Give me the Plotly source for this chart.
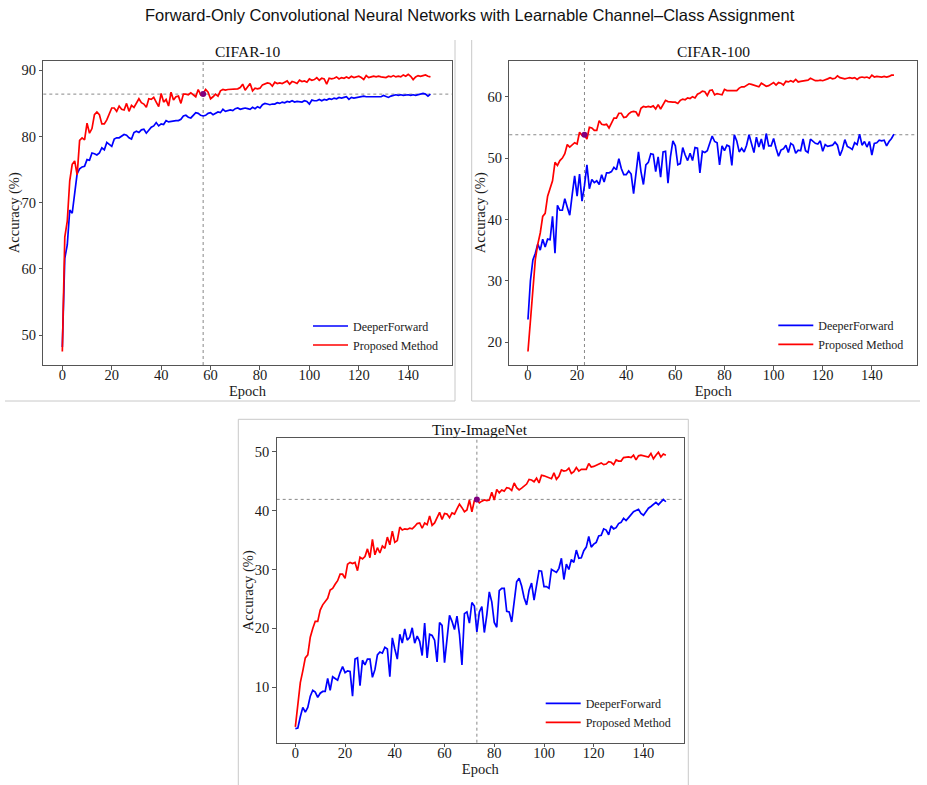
import plotly.graph_objects as go

epochs = list(range(150))

c10_deeper = [
    48.2, 61.6, 63.6, 68.9, 68.4, 71.7, 74.4, 75.1, 75.4, 75.5,
    76.5, 76.4, 77.5, 77.4, 77.2, 77.5, 78.3, 78.0, 79.1, 78.8,
    78.5, 79.6, 79.8, 79.8, 80.1, 80.3, 80.2, 79.8, 79.6, 80.6,
    80.8, 80.6, 81.0, 81.1, 80.5, 81.0, 81.4, 81.6, 82.1, 81.6,
    81.9, 81.8, 82.4, 82.2, 82.3, 82.3, 82.4, 82.4, 82.6, 83.1,
    83.2, 82.9, 82.8, 83.2, 83.6, 83.5, 83.2, 83.1, 83.2, 83.5,
    83.6, 83.3, 83.5, 83.7, 83.6, 84.1, 83.8, 83.9, 84.0, 83.9,
    84.2, 84.3, 84.1, 84.2, 84.3, 84.2, 84.1, 84.4, 84.2, 84.5,
    84.3, 84.8, 85.0, 84.9, 84.8, 84.9, 84.9, 85.1, 85.0, 85.2,
    85.1, 85.3, 85.2, 85.4, 85.2, 85.3, 85.3, 85.2, 85.4, 85.3,
    84.9, 85.5, 85.4, 85.4, 85.6, 85.4, 85.6, 85.5, 85.7, 85.6,
    85.8, 85.7, 85.9, 85.8, 85.9, 86.0, 85.6, 85.9, 85.8, 85.9,
    85.9, 86.0, 86.1, 86.0, 86.0, 86.1, 86.0, 86.0, 86.1, 86.0,
    86.2, 86.1, 85.9, 86.1, 86.2, 86.3, 86.2, 86.3, 86.2, 86.3,
    86.3, 86.2, 86.3, 86.2, 86.3, 86.3, 86.5, 86.4, 86.1, 86.4,
]
c10_proposed = [
    47.5, 64.8, 67.2, 73.3, 75.8, 76.3, 74.2, 79.4, 79.8, 79.5,
    82.0, 80.5, 81.2, 83.3, 83.7, 83.3, 81.9, 81.9, 82.5, 83.4,
    84.3, 84.3, 83.8, 84.6, 84.1, 84.0, 85.0, 83.8, 84.7, 84.4,
    85.0, 85.7, 85.1, 84.9, 84.4, 85.7, 85.6, 85.9, 85.2, 84.5,
    86.5, 85.2, 85.6, 84.6, 86.7, 85.5, 86.0, 86.1, 85.0, 86.4,
    86.4, 86.3, 86.6, 86.3, 86.0, 87.1, 86.3, 86.5, 87.1, 86.7,
    85.7, 86.0, 86.4, 86.1, 86.9, 87.1, 87.0, 87.1, 87.1, 87.2,
    87.1, 87.2, 87.4, 87.9, 87.0, 87.5, 88.0, 86.9, 87.3, 87.2,
    87.3, 87.8, 88.0, 88.1, 88.0, 87.6, 88.2, 88.0, 88.1, 88.0,
    88.2, 88.4, 87.9, 88.3, 88.2, 88.0, 88.5, 88.3, 88.4, 88.2,
    88.7, 88.5, 88.6, 88.9, 88.5, 88.8, 88.7, 87.9, 88.8, 88.7,
    88.8, 89.0, 88.7, 88.9, 88.8, 89.0, 88.8, 89.1, 88.9, 89.0,
    89.1, 88.9, 88.6, 89.2, 88.9, 89.0, 89.1, 89.0, 89.1, 89.0,
    89.0, 88.9, 89.1, 89.0, 89.2, 89.0, 89.1, 89.0, 89.3, 89.1,
    89.4, 89.1, 88.6, 89.0, 89.2, 89.1, 89.2, 89.3, 89.1, 89.0,
]

c100_deeper = [
    23.7, 30.0, 33.4, 34.5, 36.0, 35.0, 36.8, 35.5, 36.8, 36.7,
    40.5, 34.5, 42.3, 41.5, 41.5, 43.4, 42.0, 40.7, 44.0, 47.1,
    43.8, 47.4, 43.0, 45.5, 48.9, 45.0, 46.5, 46.0, 46.3, 45.7,
    47.3, 46.1, 47.6, 47.6, 47.8, 48.5, 48.1, 49.9, 48.3, 47.3,
    47.3, 47.9, 47.4, 44.2, 47.6, 51.0, 47.8, 45.7, 48.9, 49.3,
    50.7, 50.6, 47.8, 50.2, 46.9, 51.0, 51.1, 45.9, 50.2, 52.8,
    52.0, 48.9, 49.1, 51.7, 50.5, 49.6, 50.8, 49.6, 51.7, 51.6,
    47.6, 51.1, 50.9, 51.2, 52.4, 53.6, 52.7, 52.5, 48.9, 52.0,
    51.2, 52.1, 51.9, 48.8, 53.8, 52.8, 51.0, 51.6, 51.0, 52.1,
    53.8, 52.1, 50.9, 53.4, 51.8, 53.1, 51.4, 54.0, 52.0, 52.0,
    53.2, 51.6, 50.3, 51.3, 51.5, 52.1, 50.9, 52.4, 52.1, 50.8,
    51.3, 51.2, 53.1, 51.2, 50.9, 53.1, 52.8, 52.4, 52.3, 52.8,
    51.1, 52.2, 51.9, 52.0, 52.1, 52.6, 52.1, 50.4, 51.4, 53.0,
    51.9, 51.7, 51.4, 52.5, 52.2, 53.9, 52.1, 52.7, 51.8, 52.7,
    50.5, 52.4, 52.5, 52.9, 52.8, 52.9, 52.0, 52.7, 53.2, 53.9,
]
c100_proposed = [
    18.5, 24.0, 29.0, 33.5, 36.0, 37.8, 40.5, 41.0, 43.8, 45.2,
    46.3, 49.3, 48.8, 49.6, 50.0, 50.7, 52.2, 51.8, 52.2, 52.5,
    52.3, 54.2, 53.7, 53.7, 53.1, 55.0, 54.9, 54.5, 54.5, 56.1,
    55.5, 55.4, 55.5, 54.9, 55.7, 56.5, 56.5, 57.3, 57.3, 56.6,
    56.7, 57.2, 57.5, 57.6, 57.5, 56.8, 58.1, 58.4, 58.3, 58.4,
    58.3, 58.5, 58.0, 58.7, 58.0, 58.6, 59.4, 59.2, 59.1, 59.1,
    59.1, 58.9, 59.4, 59.6, 59.5, 59.8, 59.7, 60.0, 59.8, 60.4,
    60.6, 60.9, 60.8, 60.2, 61.0, 61.1, 60.3, 60.5, 60.4, 60.3,
    61.2, 61.0, 61.0, 61.0, 61.0, 61.0, 61.4, 61.6, 61.6, 61.9,
    62.1, 62.0, 61.9, 61.8, 61.6, 62.2, 61.9, 61.7, 61.8, 62.0,
    62.3, 61.9, 62.3, 62.2, 61.9, 62.5, 62.4, 62.6, 62.4, 62.8,
    62.4, 62.5, 62.6, 62.6, 62.7, 63.0, 62.8, 62.6, 62.6, 62.7,
    62.6, 62.7, 62.9, 63.1, 62.9, 63.0, 63.4, 63.1, 63.0, 62.9,
    63.0, 63.1, 63.0, 63.1, 62.8, 63.1, 63.2, 63.1, 63.2, 63.0,
    63.5, 63.2, 63.3, 63.2, 63.2, 63.3, 63.2, 63.3, 63.5, 63.5,
]

tiny_deeper = [
    3.0, 3.1, 5.0, 6.6, 5.8, 6.6, 8.5, 9.5, 9.2, 8.3,
    9.0, 9.3, 9.3, 11.5, 9.5, 11.8, 11.5, 11.2, 12.5, 13.5,
    12.5, 12.8, 12.7, 8.5, 14.8, 15.0, 10.3, 14.6, 13.8, 14.8,
    14.8, 11.7, 13.0, 15.5, 16.0, 15.8, 16.8, 16.5, 11.8, 18.4,
    16.5, 14.8, 19.0, 17.5, 19.9, 18.0, 18.5, 20.1, 17.5, 18.7,
    17.8, 15.4, 20.9, 15.0, 19.0, 18.8, 18.0, 14.3, 21.0, 20.5,
    14.2, 18.8, 22.2, 21.2, 19.8, 22.1, 19.0, 13.8, 22.5, 22.8,
    20.9, 24.4, 23.8, 19.4, 22.8, 23.7, 19.3, 22.3, 26.2, 24.5,
    21.0, 20.2, 26.4, 26.8, 26.8, 22.9, 22.8, 21.1, 24.8, 27.9,
    28.5, 27.2, 25.2, 24.0, 26.5, 27.7, 24.8, 27.6, 29.8, 29.7,
    27.1, 27.1, 26.8, 30.0, 29.7, 29.5, 30.2, 31.9, 28.3, 30.9,
    30.0, 31.7, 31.2, 33.3, 31.9, 32.0, 33.2, 33.8, 35.6, 33.8,
    34.3, 34.6, 35.7, 35.8, 36.9, 36.7, 35.9, 37.4, 36.9, 37.1,
    37.8, 38.0, 38.7, 38.3, 38.8, 39.3, 39.8, 40.0, 40.2, 39.5,
    39.2, 39.8, 40.4, 40.7, 41.0, 41.4, 41.0, 41.5, 41.9, 41.5,
]
tiny_proposed = [
    3.3, 7.2, 10.8, 12.8, 15.0, 15.5, 18.5, 20.0, 21.2, 21.2,
    23.1, 24.0, 24.6, 25.1, 26.5, 26.8, 27.5, 28.1, 29.2, 29.2,
    28.5, 30.9, 31.2, 31.0, 31.2, 29.8, 32.1, 31.8, 32.2, 33.5,
    32.0, 35.1, 32.5, 33.7, 32.8, 34.0, 33.6, 35.5, 34.2, 36.5,
    34.6, 34.9, 37.2, 36.7, 36.9, 36.8, 37.0, 36.9, 37.3, 37.8,
    37.9, 37.0, 37.9, 37.6, 39.1, 37.5, 37.9, 38.8, 39.7, 38.5,
    39.5, 39.4, 38.8, 39.6, 39.4, 40.3, 41.1, 40.5, 39.8, 40.1,
    41.8, 39.8, 41.7, 41.9, 41.3, 41.6, 41.8, 41.7, 41.8, 43.1,
    41.8, 43.6, 43.0, 43.5, 43.3, 43.9, 43.8, 43.4, 44.7, 43.9,
    43.5, 43.8, 44.2, 44.5, 45.3, 45.2, 44.9, 45.5, 44.7, 46.0,
    45.9, 45.7, 45.5, 45.4, 46.4, 45.3, 45.8, 46.9, 46.7, 46.8,
    47.2, 46.3, 46.6, 47.3, 46.7, 47.0, 47.0, 47.0, 48.0, 47.4,
    47.5, 47.7, 48.0, 48.1, 47.8, 47.9, 48.3, 48.2, 47.8, 48.6,
    48.4, 48.4, 49.0, 49.1, 49.1, 49.0, 49.4, 48.6, 49.3, 49.4,
    49.3, 49.3, 49.1, 49.7, 48.8, 49.4, 49.9, 49.1, 49.6, 49.4,
]

dataset_names = ["CIFAR-10", "CIFAR-100", "Tiny-ImageNet"]
series_names = ["DeeperForward", "Proposed Method"]
deeper_series = [c10_deeper, c100_deeper, tiny_deeper]
proposed_series = [c10_proposed, c100_proposed, tiny_proposed]
ref_accuracy = [86.4, 53.8, 41.9]
ref_epoch = [57, 23, 73]
x_ticks = [0, 20, 40, 60, 80, 100, 120, 140]
y_ticks = [[50, 60, 70, 80, 90], [20, 30, 40, 50, 60], [10, 20, 30, 40, 50]]

W, H = 927, 785
SERIF = "Liberation Serif, Times New Roman, serif"
TXT = "#1a1a1a"

def px(x):
    return x / W

def py(y):
    return 1 - y / H

# plot areas in pixels: (left, right, top, bottom)
areas = [(43.3, 451.7, 60.7, 365.0), (509.3, 917.3, 60.7, 365.0), (276.7, 684.0, 438.3, 742.7)]
x_ranges = [[-7.7, 157.6], [-7.6, 158.5], [-7.5, 156.3]]
y_ranges = [[45.47, 91.45], [16.3, 65.86], [0.6, 52.27]]
legend_pos = [(308, 311.5), (773.3, 310.8), (540.7, 688.8)]

fig = go.Figure()
layout = dict(
    width=W, height=H, autosize=False,
    margin=dict(l=0, r=0, t=0, b=0),
    paper_bgcolor="white", plot_bgcolor="white",
    showlegend=True,
)
shapes = []
annotations = []

for i in range(3):
    sfx = "" if i == 0 else str(i + 1)
    xa, ya = "x" + sfx, "y" + sfx
    leg = "legend" + sfx
    l, r, t, b = areas[i]
    fig.add_trace(go.Scatter(x=epochs, y=deeper_series[i], mode="lines", name=series_names[0],
                             line=dict(color="#0000ff", width=1.7), xaxis=xa, yaxis=ya, legend=leg))
    fig.add_trace(go.Scatter(x=epochs, y=proposed_series[i], mode="lines", name=series_names[1],
                             line=dict(color="#ff0000", width=1.7), xaxis=xa, yaxis=ya, legend=leg))
    fig.add_trace(go.Scatter(x=[ref_epoch[i]], y=[ref_accuracy[i]], mode="markers",
                             marker=dict(color="#800080", size=6), showlegend=False,
                             xaxis=xa, yaxis=ya))
    axis_common = dict(
        showline=True, linecolor="#555555", linewidth=1, mirror=True,
        ticks="outside", ticklen=3.5, tickwidth=0.8, tickcolor="#555555",
        showgrid=False, zeroline=False,
        tickfont=dict(family=SERIF, size=14.5, color=TXT),
    )
    layout["xaxis" + sfx] = dict(
        axis_common, domain=[px(l), px(r)], anchor=ya, range=x_ranges[i],
        tickvals=x_ticks, ticklabelstandoff=-7,
        title=dict(text="Epoch", font=dict(family=SERIF, size=14.5, color=TXT), standoff=2),
    )
    layout["yaxis" + sfx] = dict(
        axis_common, domain=[py(b), py(t)], anchor=xa, range=y_ranges[i],
        tickvals=y_ticks[i],
    )
    annotations.append(dict(text="Accuracy (%)", xref="paper", yref="paper",
                            x=px(l - 28), y=py((t + b) / 2), xanchor="center", yanchor="middle",
                            textangle=-90, showarrow=False,
                            font=dict(family=SERIF, size=14.5, color=TXT)))
    lx, ly = legend_pos[i]
    layout[leg] = dict(
        x=px(lx), y=py(ly), xanchor="left", yanchor="top", xref="paper", yref="paper",
        bgcolor="rgba(0,0,0,0)", borderwidth=0, itemwidth=35,
        font=dict(family=SERIF, size=12, color=TXT),
    )
    # reference dotted lines
    shapes.append(dict(type="line", xref=xa + " domain", yref=ya, x0=0, x1=1,
                       y0=ref_accuracy[i], y1=ref_accuracy[i],
                       line=dict(color="#888888", width=1, dash="dot"), layer="below"))
    shapes.append(dict(type="line", xref=xa, yref=ya + " domain", x0=ref_epoch[i], x1=ref_epoch[i],
                       y0=0, y1=1, line=dict(color="#888888", width=1, dash="dot"), layer="below"))
    annotations.append(dict(text=dataset_names[i], xref="paper", yref="paper",
                            x=px((l + r) / 2), y=py(t - 9), xanchor="center", yanchor="middle",
                            showarrow=False, font=dict(family=SERIF, size=15.5, color="#111111")))

# panel frames
frame = dict(color="#c8c8c8", width=1)
for (x0, y0, x1, y1) in [(455, 40, 455, 401), (5, 401, 455, 401),
                         (471.7, 40, 471.7, 401), (471.7, 401, 920, 401),
                         (238.3, 419.3, 238.3, 790), (238.3, 419.3, 688.3, 419.3),
                         (688.3, 419.3, 688.3, 790)]:
    shapes.append(dict(type="line", xref="paper", yref="paper",
                       x0=px(x0), y0=py(y0), x1=px(x1), y1=py(y1), line=frame))

annotations.append(dict(text="Forward-Only Convolutional Neural Networks with Learnable Channel\u2013Class Assignment",
                        xref="paper", yref="paper", x=px(470), y=py(15), xanchor="center", yanchor="middle",
                        showarrow=False, font=dict(family="Liberation Sans, Arial, sans-serif", size=16.5, color="#111111")))

layout["shapes"] = shapes
layout["annotations"] = annotations
fig.update_layout(**layout)
fig.write_html("out.html")
